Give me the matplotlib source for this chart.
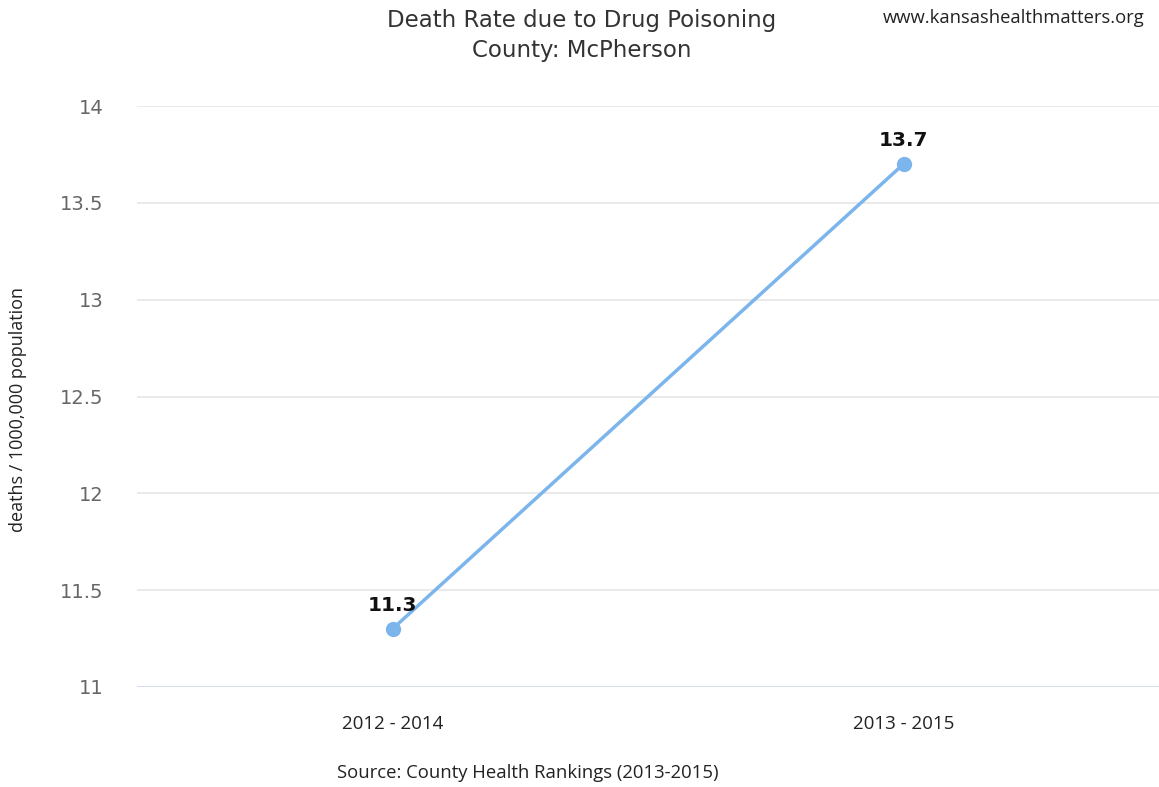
import matplotlib
matplotlib.use("Agg")
import matplotlib.pyplot as plt

categories = ["2012 - 2014", "2013 - 2015"]
values = [11.3, 13.7]
yticks = [11, 11.5, 12, 12.5, 13, 13.5, 14]
ytick_labels = ["11", "11.5", "12", "12.5", "13", "13.5", "14"]

fig = plt.figure(figsize=(11.59, 7.87), dpi=100)
ax = fig.add_axes([137/1159, 100/787, 1 - 137/1159, 581/787])

x = list(range(len(categories)))
ax.plot(x, values, color="#7cb5ec", lw=2.5, marker="o", ms=10, zorder=3, clip_on=False)
for xi, v in zip(x, values):
    ax.annotate(f"{v}", (xi, v), xytext=(0, 10), textcoords="offset points",
                ha="center", va="bottom", fontsize=14.5, fontweight="bold", color="#111111")

ax.set_xlim(-0.5, len(categories) - 0.5)
ax.set_ylim(11, 14)
ax.set_yticks(yticks)
ax.set_yticklabels(ytick_labels, fontsize=14, color="#666666")
ax.set_xticks(x)
ax.set_xticklabels(categories, fontsize=13.5, color="#222222", family="Open Sans")
ax.tick_params(axis="y", length=0, pad=24)
ax.tick_params(axis="x", length=0, pad=20)
for yt in yticks:
    ax.axhline(yt, color="#e6e6e6" if yt != 11 else "#ccd6eb", lw=1.2, zorder=1)
for s in ax.spines.values():
    s.set_visible(False)

ax.set_ylabel("deaths / 1000,000 population", fontsize=13, family="Open Sans", color="#222222")
ax.yaxis.set_label_coords(-110/1022, 0.478)

fig.text(582/1159, 1 - 20/787, "Death Rate due to Drug Poisoning", ha="center", va="center",
         fontsize=16.5, color="#333333")
fig.text(582/1159, 1 - 51/787, "County: McPherson", ha="center", va="center",
         fontsize=16.5, color="#333333")
fig.text(1014/1159, 1 - 18/787, "www.kansashealthmatters.org", ha="center", va="center",
         fontsize=13.2, family="Open Sans", color="#222222")
fig.text(528/1159, 1 - 773/787, "Source: County Health Rankings (2013-2015)", ha="center", va="center",
         fontsize=13.3, family="Open Sans", color="#222222")

fig.savefig("out.png", dpi=100, facecolor="white")
